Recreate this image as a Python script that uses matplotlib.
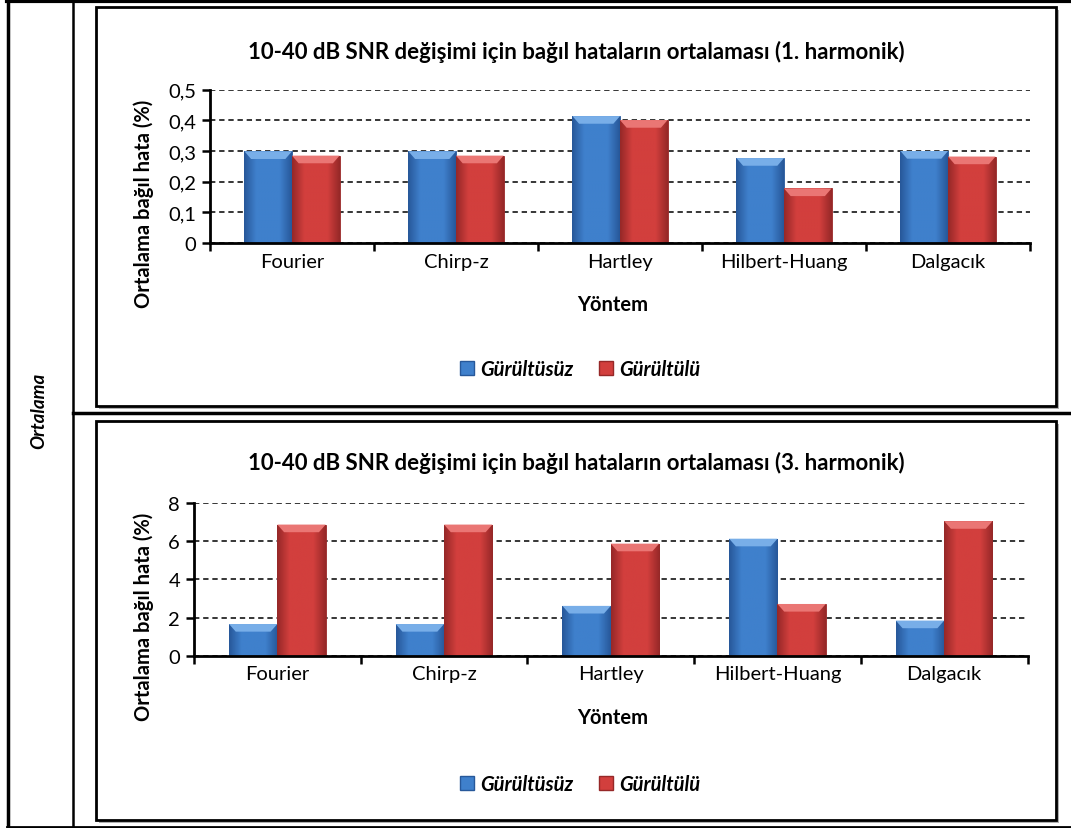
import numpy as np
import matplotlib
matplotlib.use('Agg')
import matplotlib.pyplot as plt
from matplotlib.colors import LinearSegmentedColormap
from matplotlib.patches import Rectangle, Polygon, Patch
from matplotlib.lines import Line2D
from matplotlib.ticker import FuncFormatter, FixedLocator

plt.rcParams['font.family'] = ['Lato', 'DejaVu Sans']

# veriler: 10-40 dB SNR icin ortalama bagil hata (%)
yontemler = ['Fourier', 'Chirp-z', 'Hartley', 'Hilbert-Huang', 'Dalgacık']
seriler = ['Gürültüsüz', 'Gürültülü']
h1_gurultusuz = [0.299, 0.299, 0.414, 0.277, 0.300]
h1_gurultulu = [0.285, 0.285, 0.401, 0.178, 0.282]
h3_gurultusuz = [1.66, 1.66, 2.61, 6.13, 1.84]
h3_gurultulu = [6.87, 6.87, 5.87, 2.71, 7.05]

# renkler: (kenar, yuz, ust pah)
MAVI = ('#27589a', '#3f80cc', '#78aee8')
KIRMIZI = ('#962828', '#d23f3d', '#ea7674')

YAZI = 14.5

W, H = 1071, 829
fig = plt.figure(figsize=(W / 100, H / 100), dpi=100)


def fx(px):
    return px / W


def fy(py):
    return 1 - py / H


# tablo cizgileri
def cizgi(x0, y0, x1, y1, lw):
    fig.add_artist(Line2D([fx(x0), fx(x1)], [fy(y0), fy(y1)], color='black', lw=lw, zorder=5))


cizgi(7, 2, 1071, 2, 3)
cizgi(8, 2, 8, 829, 2.5)
cizgi(73, 2, 73, 829, 1.8)
cizgi(73, 414, 1071, 414, 2.5)
cizgi(7, 827.5, 1071, 827.5, 2)


# grafik kutulari (golgeli)
def kutu(x0, y0, x1, y1):
    fig.add_artist(Rectangle((fx(x0 + 3), fy(y1 + 3)), fx(x1 - x0), (y1 - y0) / H,
                             facecolor='#b0b0b0', edgecolor='none', zorder=-2))
    fig.add_artist(Rectangle((fx(x0), fy(y1)), fx(x1 - x0), (y1 - y0) / H,
                             facecolor='white', edgecolor='black', lw=2, zorder=-1))


kutu(96, 8, 1056, 407)
kutu(96, 422, 1056, 821)

fig.text(fx(39), fy(411), 'Ortalama', rotation=90, ha='center', va='center',
         fontsize=13.5, fontweight='bold', fontstyle='italic')


def cubuk(ax, x, w, h, renk, ymax):
    koyu, yuz, acik = renk
    bar = ax.bar(x, h, w, color=yuz, edgecolor=koyu, linewidth=0.6, zorder=3)[0]
    cmap = LinearSegmentedColormap.from_list('g', [koyu, yuz, yuz, yuz, koyu])
    im = ax.imshow(np.linspace(0, 1, 64).reshape(1, -1), extent=[x - w / 2, x + w / 2, 0, h],
                   aspect='auto', cmap=cmap, zorder=3.1, interpolation='bilinear')
    im.set_clip_path(bar)
    dy = ymax * 0.05
    dx = w * 0.14
    ax.add_patch(Polygon([[x - w / 2, h], [x + w / 2, h], [x + w / 2 - dx, h - dy], [x - w / 2 + dx, h - dy]],
                         closed=True, facecolor=acik, edgecolor='none', zorder=3.2))


def grafik(rect, d1, d2, ymax, adim, fmt, baslik, baslik_y, yontem_y, lejant_y):
    ax = fig.add_axes(rect)
    ax.set_facecolor('none')
    x = np.arange(len(yontemler))
    w = 0.29
    for i in x:
        cubuk(ax, i - w / 2, w, d1[i], MAVI, ymax)
        cubuk(ax, i + w / 2, w, d2[i], KIRMIZI, ymax)
    ax.set_xlim(-0.5, len(yontemler) - 0.5)
    ax.set_ylim(0, ymax)
    ax.set_yticks(np.arange(0, ymax + adim / 2, adim))
    ax.yaxis.set_major_formatter(FuncFormatter(fmt))
    ax.xaxis.set_major_locator(FixedLocator(np.arange(-0.5, len(yontemler), 1)))
    ax.xaxis.set_minor_locator(FixedLocator(x))
    ax.set_xticklabels([])
    ax.set_xticklabels(yontemler, minor=True)
    ax.tick_params(axis='x', which='major', length=6, width=1.8, direction='out')
    ax.tick_params(axis='x', which='minor', length=0, pad=7, labelsize=YAZI)
    ax.tick_params(axis='y', length=6, width=1.8, direction='out', labelsize=YAZI, pad=4)
    for s in ['top', 'right']:
        ax.spines[s].set_visible(False)
    for s in ['left', 'bottom']:
        ax.spines[s].set_linewidth(2)
        ax.spines[s].set_zorder(4)
    ax.yaxis.grid(True, color='black', linestyle=(0, (3.5, 2.5)), linewidth=1.1)
    ax.set_axisbelow(True)
    fig.text(fx(576), fy(baslik_y), baslik, ha='center', va='center', fontsize=16, fontweight='bold')
    fig.text(fx(144), fy(rect_merkez(rect)), 'Ortalama bağıl hata (%)', rotation=90,
             ha='center', va='center', fontsize=YAZI, fontweight='bold')
    fig.text(fx(613), fy(yontem_y), 'Yöntem', ha='center', va='center', fontsize=YAZI, fontweight='bold')
    tutamaclar = [Patch(facecolor=MAVI[1], edgecolor=MAVI[0]), Patch(facecolor=KIRMIZI[1], edgecolor=KIRMIZI[0])]
    fig.legend(tutamaclar, seriler, loc='center', bbox_to_anchor=(fx(580), fy(lejant_y)), ncol=2,
               frameon=False, handlelength=0.7, handleheight=0.7, handletextpad=0.3, columnspacing=1.3,
               prop={'size': YAZI, 'weight': 'bold', 'style': 'italic'})
    return ax


def rect_merkez(rect):
    return (1 - rect[1] - rect[3] / 2) * H + 37


virgul = lambda v, p: ('%.1f' % v).replace('.', ',') if v != 0 else '0'
tamsayi = lambda v, p: '%d' % v

grafik([fx(210), fy(244), fx(1030 - 210), (244 - 90.7) / H], h1_gurultusuz, h1_gurultulu, 0.5, 0.1, virgul,
       '10-40 dB SNR değişimi için bağıl hataların ortalaması (1. harmonik)', 52, 305, 370)
grafik([fx(194), fy(656.7), fx(1027.5 - 194), (656.7 - 504) / H], h3_gurultusuz, h3_gurultulu, 8, 2, tamsayi,
       '10-40 dB SNR değişimi için bağıl hataların ortalaması (3. harmonik)', 463, 718, 785)

fig.savefig('out.png', dpi=100)
